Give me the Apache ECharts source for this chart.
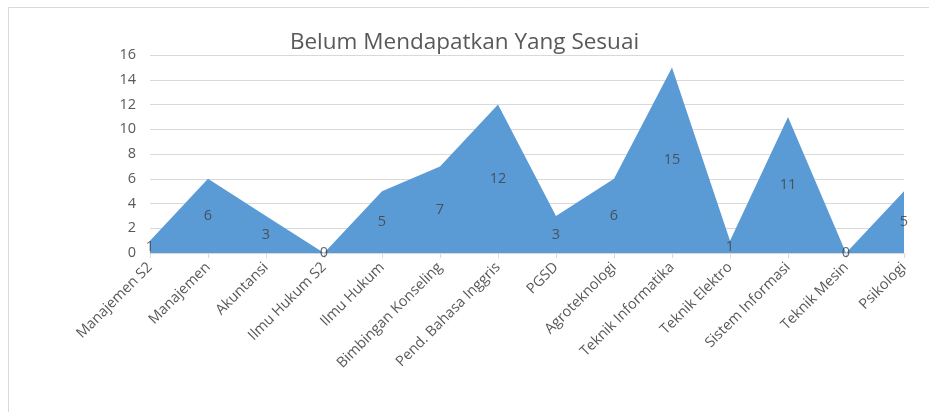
<!DOCTYPE html>
<html>
<head>
<meta charset="utf-8">
<script src="https://cdn.jsdelivr.net/npm/echarts@6/dist/echarts.min.js"></script>
<style>
  html, body { margin: 0; padding: 0; background: #fff; }
  #chart { width: 929px; height: 412px; }
</style>
</head>
<body>
<div id="chart"></div>
<script>
const prodi = ['Manajemen S2', 'Manajemen', 'Akuntansi', 'Ilmu Hukum S2', 'Ilmu Hukum',
  'Bimbingan Konseling', 'Pend. Bahasa Inggris', 'PGSD', 'Agroteknologi',
  'Teknik Informatika', 'Teknik Elektro', 'Sistem Informasi', 'Teknik Mesin', 'Psikologi']
const jumlah = [1, 6, 3, 0, 5, 7, 12, 3, 6, 15, 1, 11, 0, 5]

// label di tengah area (seperti excel)
const labelPos = jumlah.map((v, i) => [i, v / 2, v])

const chart = echarts.init(document.getElementById('chart'))
const font = "'Open Sans', 'Liberation Sans', sans-serif"

chart.setOption({
  animation: false,
  graphic: [{
    type: 'rect',
    shape: { x: 8.5, y: 7.5, width: 1000, height: 1000 },
    style: { fill: null, stroke: '#d9d9d9', lineWidth: 1 },
    silent: true
  }],
  title: {
    text: 'Belum Mendapatkan Yang Sesuai',
    left: 'center',
    top: 26,
    textStyle: { fontFamily: font, fontSize: 22.5, fontWeight: 'normal', color: '#595959' }
  },
  grid: { left: 150, right: 25, top: 55, bottom: 159 },
  xAxis: {
    type: 'category',
    data: prodi,
    boundaryGap: false,
    axisLine: { lineStyle: { color: '#d9d9d9' } },
    axisTick: { show: true, length: 5, lineStyle: { color: '#d9d9d9' } },
    axisLabel: { rotate: 45, interval: 0, margin: 12, color: '#595959', fontFamily: font, fontSize: 14.5 }
  },
  yAxis: {
    type: 'value',
    min: 0,
    max: 16,
    interval: 2,
    axisLine: { show: false },
    axisTick: { show: false },
    splitLine: { lineStyle: { color: '#d9d9d9' } },
    axisLabel: { color: '#595959', fontFamily: font, fontSize: 14.5, margin: 14 }
  },
  series: [
    {
      type: 'line',
      data: jumlah,
      symbol: 'none',
      lineStyle: { width: 0 },
      areaStyle: { color: '#5b9bd5', opacity: 1 }
    },
    {
      type: 'scatter',
      data: labelPos,
      symbolSize: 0,
      z: 5,
      label: {
        show: true,
        position: 'inside',
        formatter: p => p.data[2],
        color: '#404040',
        fontFamily: font,
        fontSize: 14.5
      }
    }
  ]
})
</script>
</body>
</html>
